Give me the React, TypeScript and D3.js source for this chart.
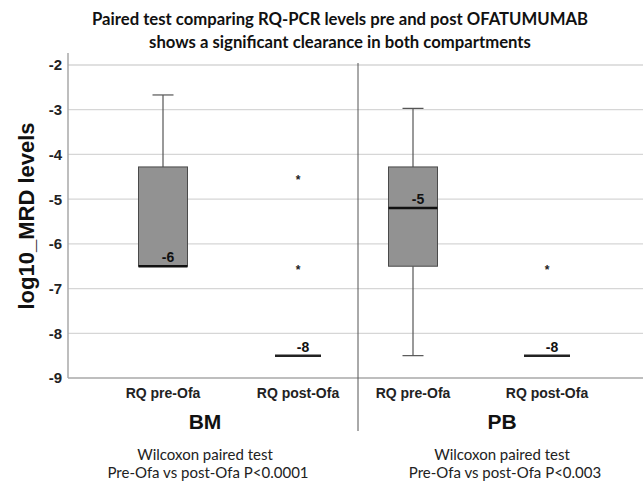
import React from "react";
import * as d3 from "d3";

const title1 = "Paired test comparing RQ-PCR levels pre and post OFATUMUMAB";
const title2 = "shows a significant clearance in both compartments";
const yLabel = "log10_MRD levels";
const yTicks = [-2, -3, -4, -5, -6, -7, -8, -9];
const categories = ["RQ pre-Ofa", "RQ post-Ofa"];
const compartments = ["BM", "PB"];
const testLine1 = ["Wilcoxon paired test", "Wilcoxon paired test"];
const testLine2 = ["Pre-Ofa vs post-Ofa P<0.0001", "Pre-Ofa vs post-Ofa P<0.003"];

// box stats per compartment, per category: [min, q1, median, q3, max]
const bmStats = [
  [-6.5, -6.5, -6.5, -4.28, -2.67],
  [-8.5, -8.5, -8.5, -8.5, -8.5],
];
const pbStats = [
  [-8.5, -6.5, -5.2, -4.28, -2.97],
  [-8.5, -8.5, -8.5, -8.5, -8.5],
];
const bmOutliers = [[], [-4.5, -6.5]];
const pbOutliers = [[], [-6.5]];
const bmMedianLabels = ["-6", "-8"];
const pbMedianLabels = ["-5", "-8"];

const W = 643;
const H = 483;
const plotLeft = 68;
const plotRight = 643;
const divX = 358;

export default function App() {
  const y = d3.scaleLinear().domain([-9, -2]).range([378, 65]);
  const panels = [
    { name: compartments[0], x: d3.scalePoint<string>().domain(categories).range([163, 298]), stats: bmStats, outliers: bmOutliers, labels: bmMedianLabels, cx: 205, t1: testLine1[0], t2: testLine2[0] },
    { name: compartments[1], x: d3.scalePoint<string>().domain(categories).range([413, 547]), stats: pbStats, outliers: pbOutliers, labels: pbMedianLabels, cx: 502, t1: testLine1[1], t2: testLine2[1] },
  ];
  const boxW = 49;
  const capW = 21;
  const flatW = 46;
  const arial = "'Liberation Sans', Arial, sans-serif";
  const cal = "Lato, 'Open Sans', sans-serif";

  return (
    <svg width={W} height={H} style={{ position: "absolute", left: 0, top: 0, background: "#fff" }}>
      <rect x={0} y={0} width={W} height={H} fill="#fff" />
      <text x={340} y={25} textAnchor="middle" fontFamily={cal} fontWeight="bold" fontSize={16.7} fill="#111">{title1}</text>
      <text x={340} y={48} textAnchor="middle" fontFamily={cal} fontWeight="bold" fontSize={16.7} fill="#111">{title2}</text>

      {yTicks.filter((t) => t !== -9).map((t) => (
        <line key={"g" + t} x1={plotLeft} x2={plotRight} y1={y(t)} y2={y(t)} stroke="#d6d6d6" strokeWidth={1.3} />
      ))}
      <line x1={plotLeft} x2={plotRight} y1={y(-9)} y2={y(-9)} stroke="#a8a8a8" strokeWidth={1.5} />
      <line x1={plotLeft} x2={plotLeft} y1={53} y2={y(-9)} stroke="#a8a8a8" strokeWidth={1.5} />
      <line x1={divX} x2={divX} y1={63} y2={431} stroke="#555" strokeWidth={1} />

      {yTicks.map((t) => (
        <text key={"t" + t} x={62} y={y(t)} dy="0.36em" textAnchor="end" fontFamily={arial} fontWeight="bold" fontSize={15} fill="#222">{t}</text>
      ))}
      <text transform={`translate(34,${216}) rotate(-90)`} textAnchor="middle" fontFamily={arial} fontWeight="bold" fontSize={22} fill="#111">{yLabel}</text>

      {panels.map((p) => (
        <g key={p.name}>
          {categories.map((c, i) => {
            const [mn, q1, md, q3, mx] = p.stats[i];
            const cx = p.x(c) as number;
            const isFlat = q1 === q3;
            return (
              <g key={c}>
                {!isFlat && (
                  <>
                    {mx > q3 && <line x1={cx} x2={cx} y1={y(mx)} y2={y(q3)} stroke="#555" strokeWidth={1.2} />}
                    {mx > q3 && <line x1={cx - capW / 2} x2={cx + capW / 2} y1={y(mx)} y2={y(mx)} stroke="#555" strokeWidth={1.2} />}
                    {mn < q1 && <line x1={cx} x2={cx} y1={y(q1)} y2={y(mn)} stroke="#555" strokeWidth={1.2} />}
                    {mn < q1 && <line x1={cx - capW / 2} x2={cx + capW / 2} y1={y(mn)} y2={y(mn)} stroke="#555" strokeWidth={1.2} />}
                    <rect x={cx - boxW / 2} y={y(q3)} width={boxW} height={y(q1) - y(q3)} fill="#929292" stroke="#4a4a4a" strokeWidth={1} />
                    <line x1={cx - boxW / 2} x2={cx + boxW / 2} y1={y(md)} y2={y(md)} stroke="#111" strokeWidth={2.5} />
                  </>
                )}
                {isFlat && (
                  <line x1={cx - flatW / 2} x2={cx + flatW / 2} y1={y(md)} y2={y(md)} stroke="#222" strokeWidth={2.5} />
                )}
                <text x={cx + 5} y={y(md) - 4} textAnchor="middle" fontFamily={arial} fontWeight="bold" fontSize={14} fill="#111">{p.labels[i]}</text>
                {p.outliers[i].map((o, k) => (
                  <text key={k} x={cx} y={y(o)} dy="0.62em" textAnchor="middle" fontFamily={arial} fontWeight="bold" fontSize={12} fill="#222">*</text>
                ))}
                <text x={cx} y={393} dy="0.36em" textAnchor="middle" fontFamily={arial} fontWeight="bold" fontSize={14} fill="#222">{c}</text>
              </g>
            );
          })}
          <text x={p.cx} y={421} dy="0.36em" textAnchor="middle" fontFamily={arial} fontWeight="bold" fontSize={21} fill="#111">{p.name}</text>
          <text x={p.cx} y={455} dy="0.36em" textAnchor="middle" fontFamily={cal} fontSize={15} fill="#222">{p.t1}</text>
          <text x={p.cx + 3} y={473} dy="0.36em" textAnchor="middle" fontFamily={cal} fontSize={15} fill="#222">{p.t2}</text>
        </g>
      ))}
    </svg>
  );
}
